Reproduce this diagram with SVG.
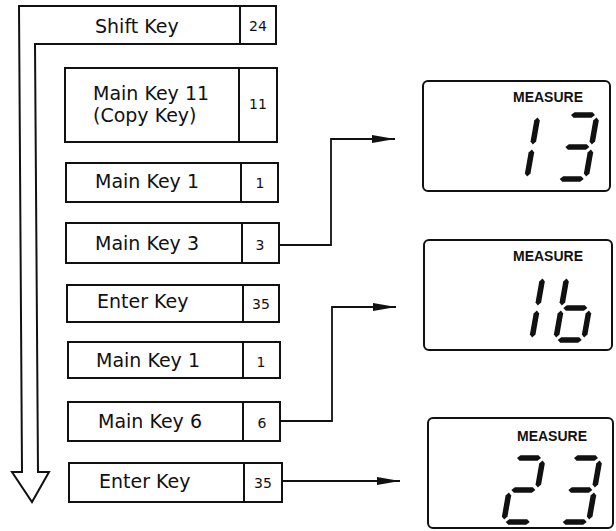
<svg xmlns="http://www.w3.org/2000/svg" width="616" height="531" viewBox="0 0 616 531">
<style>
.box{fill:#fff;stroke:#111;stroke-width:2}
.div{stroke:#111;stroke-width:2}
.lbl{font-family:"DejaVu Sans",sans-serif;font-size:19px;fill:#111}
.num{font-family:"DejaVu Sans",sans-serif;font-size:14px;fill:#111;text-anchor:middle}
.disp{fill:#fff;stroke:#111;stroke-width:2}
.meas{font-family:"Liberation Sans",Arial,sans-serif;font-weight:bold;font-size:14px;fill:#111}
.seg{fill:#111}
.conn{fill:none;stroke:#111;stroke-width:1.8}
</style>
<defs>
<marker id="arr" markerUnits="userSpaceOnUse" markerWidth="24" markerHeight="10" refX="23" refY="4.5" orient="auto">
<path d="M0,0.5 L23,4.5 L0,8.5 Z" fill="#111"/>
</marker>
<polygon id="h" class="seg" points="-12,0 -9,-2.8 9,-2.8 12,0 9,2.8 -9,2.8"/>
<polygon id="v" class="seg" points="0,-13.5 2.8,-10.5 2.8,10.5 0,13.5 -2.8,10.5 -2.8,-10.5"/>
</defs>

<g id="sequence-arrow">
<path class="box" d="M19,6 H276 V44 H35 L38,472 H49 L32,502 L12,472 H22 Z"/>
</g>

<g id="shift-key">
<line class="div" x1="240" y1="6" x2="240" y2="44"/>
<text class="lbl" x="95" y="33">Shift Key</text>
<text class="num" x="258" y="31">24</text>
</g>

<g id="main-key-11">
<rect class="box" x="65" y="68" width="212" height="74"/>
<line class="div" x1="239" y1="68" x2="239" y2="142"/>
<text class="lbl" x="93" y="100">Main Key 11</text>
<text class="lbl" x="93" y="122">(Copy Key)</text>
<text class="num" x="258" y="109" font-size="12">11</text>
</g>

<g id="main-key-1a">
<rect class="box" x="66" y="163" width="212" height="39"/>
<line class="div" x1="241" y1="163" x2="241" y2="202"/>
<text class="lbl" x="95" y="188">Main Key 1</text>
<text class="num" x="260" y="188">1</text>
</g>

<g id="main-key-3">
<rect class="box" x="66" y="223" width="213" height="40"/>
<line class="div" x1="242" y1="223" x2="242" y2="263"/>
<text class="lbl" x="95" y="250">Main Key 3</text>
<text class="num" x="260" y="250">3</text>
</g>

<g id="enter-key-a">
<rect class="box" x="67" y="285" width="212" height="37"/>
<line class="div" x1="243" y1="285" x2="243" y2="322"/>
<text class="lbl" x="97" y="308">Enter Key</text>
<text class="num" x="261" y="309">35</text>
</g>

<g id="main-key-1b">
<rect class="box" x="68" y="342" width="212" height="36"/>
<line class="div" x1="243" y1="342" x2="243" y2="378"/>
<text class="lbl" x="96" y="367">Main Key 1</text>
<text class="num" x="261" y="367">1</text>
</g>

<g id="main-key-6">
<rect class="box" x="68" y="402" width="212" height="39"/>
<line class="div" x1="243" y1="402" x2="243" y2="441"/>
<text class="lbl" x="98" y="428">Main Key 6</text>
<text class="num" x="262" y="428">6</text>
</g>

<g id="enter-key-b">
<rect class="box" x="69" y="463" width="213" height="39"/>
<line class="div" x1="244" y1="463" x2="244" y2="502"/>
<text class="lbl" x="99" y="488">Enter Key</text>
<text class="num" x="263" y="488">35</text>
</g>

<g id="connectors">
<polyline class="conn" points="279,245 331,245 331,139 395,139" marker-end="url(#arr)"/>
<polyline class="conn" points="280,421 332,421 332,307 396,307" marker-end="url(#arr)"/>
<polyline class="conn" points="282,481 400,481" marker-end="url(#arr)"/>
</g>

<g id="display-13">
<rect class="disp" x="423" y="81" width="187" height="110" rx="5"/>
<text class="meas" x="513" y="102">MEASURE</text>
<g transform="translate(510,115) skewX(-10)">
<use href="#v" x="28" y="16"/><use href="#v" x="28" y="48"/>
</g>
<g transform="translate(569,115) skewX(-10)">
<use href="#h" x="14" y="0"/><use href="#v" x="28" y="16"/><use href="#h" x="14" y="32"/><use href="#v" x="28" y="48"/><use href="#h" x="14" y="64"/>
</g>
</g>

<g id="display-16">
<rect class="disp" x="424" y="240" width="188" height="110" rx="5"/>
<text class="meas" x="513" y="261">MEASURE</text>
<g transform="translate(515,276) skewX(-10)">
<use href="#v" x="28" y="16"/><use href="#v" x="28" y="48"/>
</g>
<g transform="translate(567,276) skewX(-10)">
<use href="#v" x="0" y="16"/><use href="#h" x="14" y="32"/><use href="#v" x="0" y="48"/><use href="#v" x="28" y="48"/><use href="#h" x="14" y="64"/>
</g>
</g>

<g id="display-23">
<rect class="disp" x="428" y="418" width="185" height="110" rx="5"/>
<text class="meas" x="517" y="441">MEASURE</text>
<g transform="translate(515,458) skewX(-10)">
<use href="#h" x="14" y="0"/><use href="#v" x="28" y="16"/><use href="#h" x="14" y="32"/><use href="#v" x="0" y="48"/><use href="#h" x="14" y="64"/>
</g>
<g transform="translate(572,458) skewX(-10)">
<use href="#h" x="14" y="0"/><use href="#v" x="28" y="16"/><use href="#h" x="14" y="32"/><use href="#v" x="28" y="48"/><use href="#h" x="14" y="64"/>
</g>
</g>
</svg>
